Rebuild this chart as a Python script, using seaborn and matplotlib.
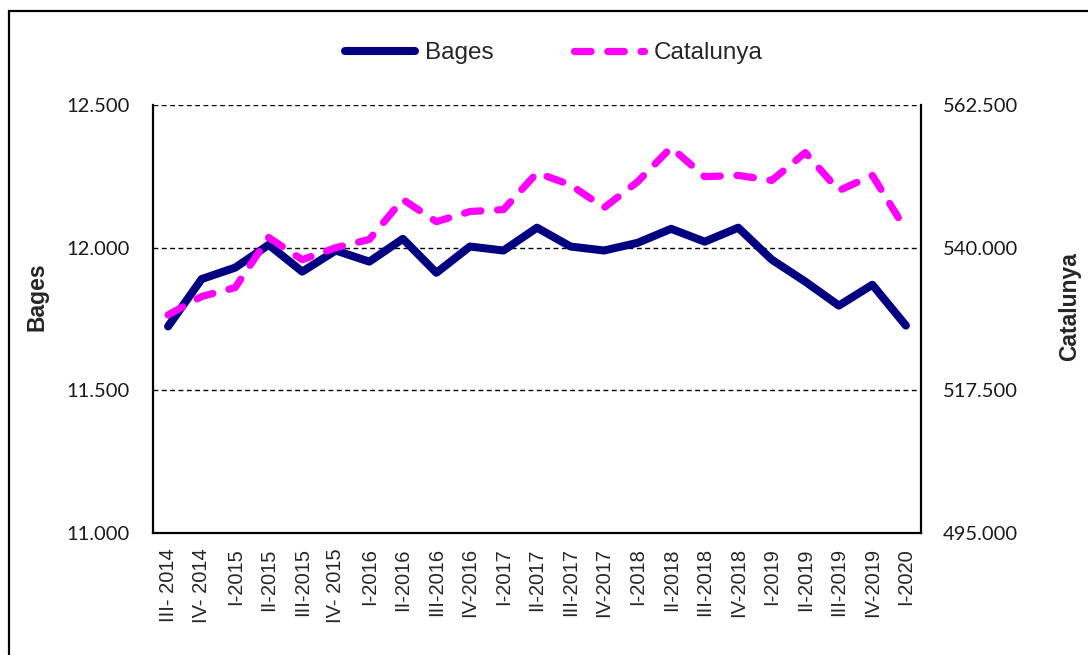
import numpy as np
import pandas as pd
import matplotlib
matplotlib.use("Agg")
import matplotlib.pyplot as plt
import matplotlib.patches as mpatches
from matplotlib.ticker import FuncFormatter
import seaborn as sns

quarters = ["III- 2014", "IV- 2014", "I-2015", "II-2015", "III-2015", "IV- 2015",
            "I-2016", "II-2016", "III-2016", "IV-2016", "I-2017", "II-2017",
            "III-2017", "IV-2017", "I-2018", "II-2018", "III-2018", "IV-2018",
            "I-2019", "II-2019", "III-2019", "IV-2019", "I-2020"]
bages = [11724, 11890, 11930, 12010, 11916, 11990, 11951, 12031, 11912, 12004,
         11990, 12070, 12004, 11990, 12017, 12066, 12021, 12070, 11958, 11881,
         11797, 11870, 11727]
catalunya = [529400, 532300, 533700, 541600, 538100, 540000, 541300, 547600,
             544100, 545700, 546000, 551800, 549900, 546300, 550400, 555800,
             551200, 551400, 550600, 555000, 549000, 551400, 542800]
left_ticks = [11000, 11500, 12000, 12500]
right_ticks = [495000, 517500, 540000, 562500]

sns.set_style("white")
plt.rcParams["font.family"] = ["Liberation Sans", "DejaVu Sans"]

df = pd.DataFrame({"pos": np.arange(len(quarters)), "quarter": quarters,
                   "Bages": bages, "Catalunya": catalunya})

fig = plt.figure(figsize=(10.88, 6.55), dpi=100)
W, H = 1088, 655
ax = fig.add_axes([153 / W, 1 - 533 / H, (921 - 153) / W, (533 - 105) / H])
ax2 = ax.twinx()

sns.lineplot(data=df, x="pos", y="Bages", ax=ax, color="#000080", lw=5.8,
             solid_capstyle="round", solid_joinstyle="round", label="Bages",
             legend=False)
sns.lineplot(data=df, x="pos", y="Catalunya", ax=ax2, color="#FF00FF", lw=5.2,
             dashes=False, label="Catalunya", legend=False)
l2 = ax2.get_lines()[0]
l2.set_linestyle((0, (2.3, 2.3)))
l2.set_dash_capstyle("round")
l2.set_dash_joinstyle("round")

ax.set_xlim(-0.45, len(quarters) - 1 + 0.45)
ax.set_ylim(11000, 12500)
ax2.set_ylim(495000, 562500)
ax.set_yticks(left_ticks)
ax2.set_yticks(right_ticks)
fmt = FuncFormatter(lambda v, p: f"{v:,.0f}".replace(",", "."))
ax.yaxis.set_major_formatter(fmt)
ax2.yaxis.set_major_formatter(fmt)

ax.set_xticks(df["pos"])
ax.set_xticklabels(quarters, rotation=90, fontsize=14.5, family="Liberation Sans")
ax.tick_params(axis="x", length=0, pad=11)
ax.tick_params(axis="y", length=0, pad=16.5, labelsize=14.5)
ax2.tick_params(axis="y", length=0, pad=16, labelsize=14.5)
for t in ax.get_yticklabels() + ax2.get_yticklabels():
    t.set_family(["Lato", "DejaVu Sans"])
    t.set_color("#1a1a1a")

ax.set_xlabel("")
ax.set_ylabel("")
ax2.set_ylabel("")

ax.grid(False)
ax2.grid(False)
for v in left_ticks[1:]:
    ax.axhline(v, color="black", lw=1.0, ls=(0, (3.5, 2.5)), zorder=0.5)

for a in (ax, ax2):
    for s in a.spines.values():
        s.set_visible(False)
ax.spines["left"].set_visible(True)
ax.spines["bottom"].set_visible(True)
ax2.spines["right"].set_visible(True)
for s in (ax.spines["left"], ax.spines["bottom"], ax2.spines["right"]):
    s.set_color("black")
    s.set_linewidth(1.6)

fig.text(37 / W, 1 - 297 / H, "Bages", rotation=90, ha="center", va="center",
         fontsize=16.5, fontweight="bold")
fig.text(1070 / W, 1 - 307 / H, "Catalunya", rotation=90, ha="center", va="center",
         fontsize=16.5, fontweight="bold")

handles = [ax.get_lines()[0], l2]
fig.legend(handles, ["Bages", "Catalunya"], loc="center",
           bbox_to_anchor=(554 / W, 1 - 53 / H), ncol=2, frameon=False,
           fontsize=17.5, handlelength=2.88, handletextpad=0.41, columnspacing=3.3)

rect = mpatches.Rectangle((9 / W, -0.1), 1.2, 1 - 11 / H + 0.1, transform=fig.transFigure,
                          fill=False, edgecolor="black", lw=1.6, clip_on=False)
fig.patches.append(rect)

fig.savefig("out.png", dpi=100, facecolor="white")
